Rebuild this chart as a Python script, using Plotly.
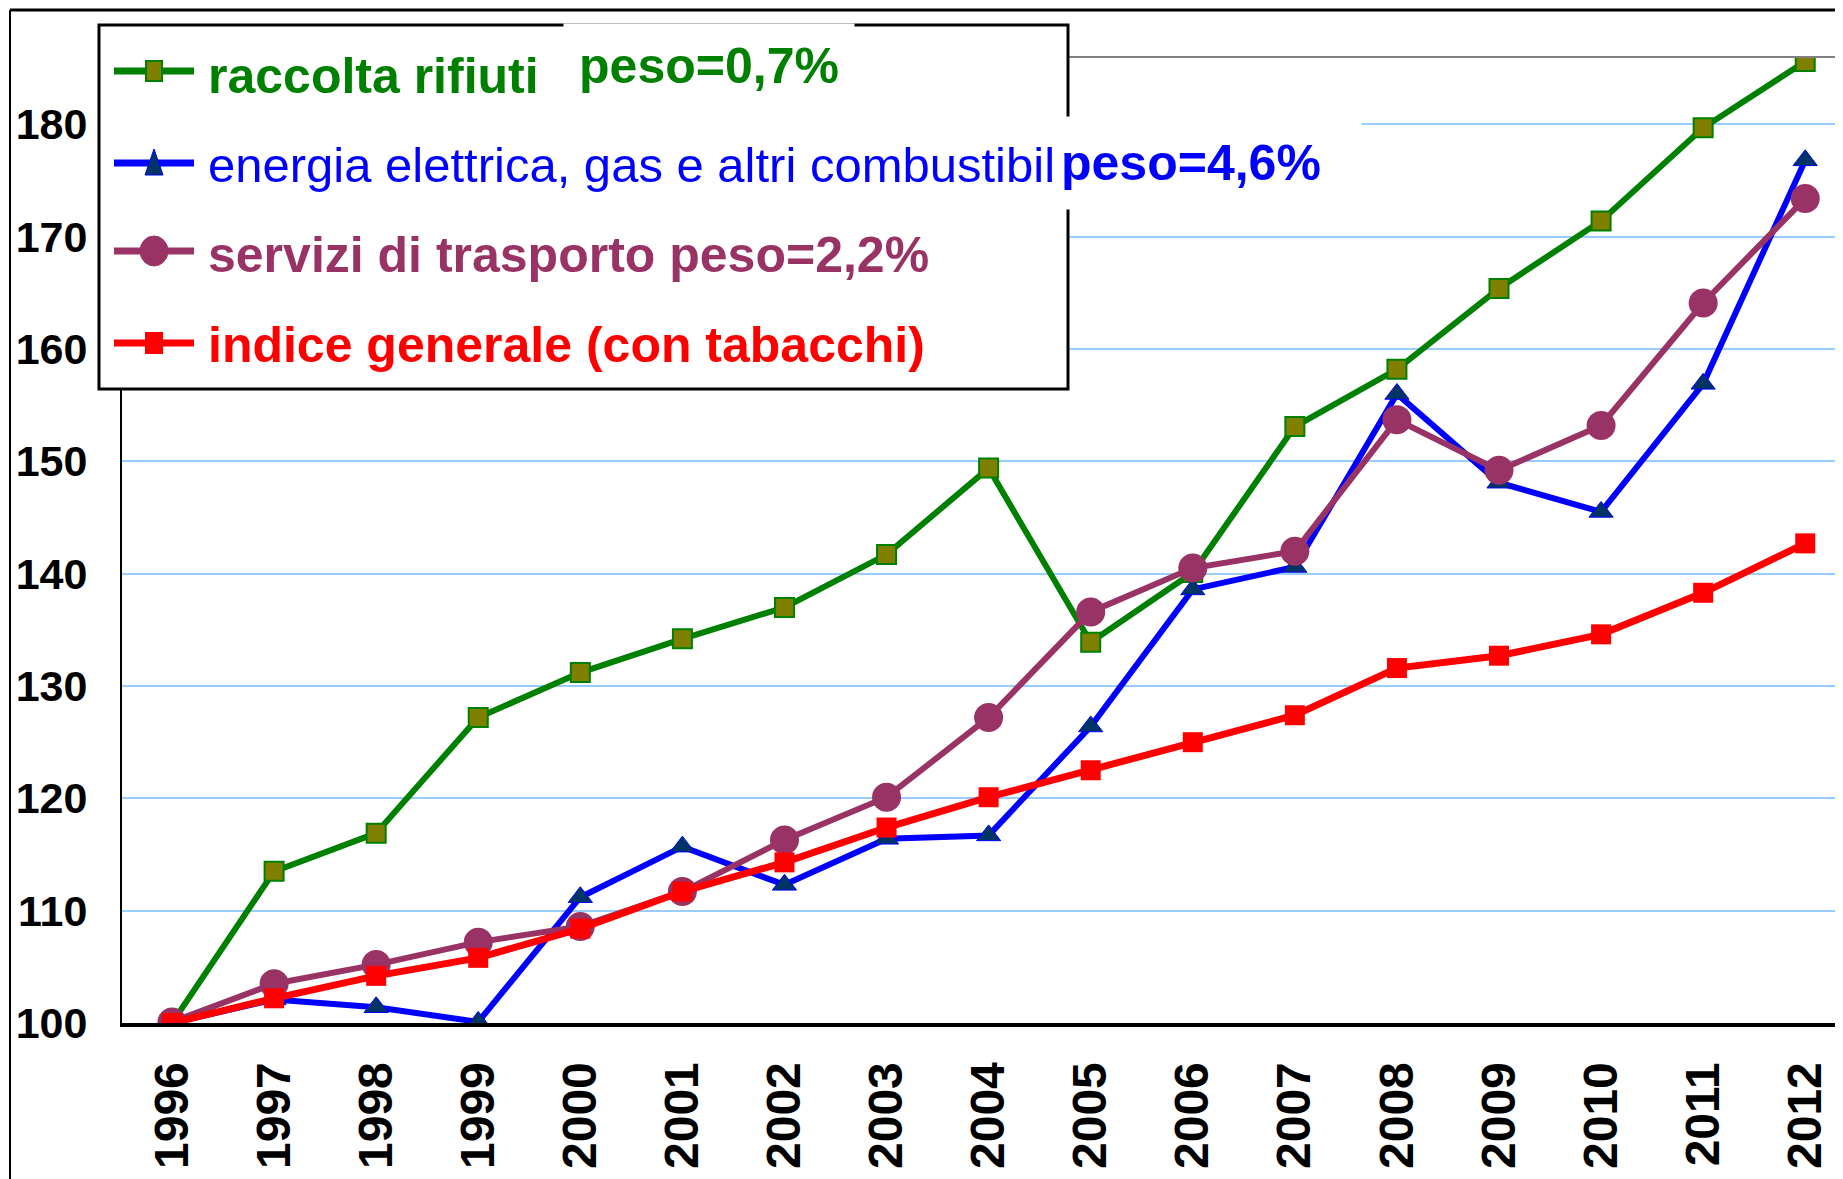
import plotly.graph_objects as go

years = list(range(1996, 2013))

raccolta_rifiuti = [100.0, 113.5, 116.9, 127.2, 131.2, 134.2, 137.0, 141.7, 149.4,
                    133.9, 140.1, 153.1, 158.2, 165.4, 171.4, 179.7, 185.6]
energia = [100.0, 102.1, 101.4, 100.1, 111.2, 115.7, 112.3, 116.4, 116.7,
           126.4, 138.6, 140.6, 156.0, 148.1, 145.5, 156.9, 176.8]
trasporto = [100.1, 103.5, 105.2, 107.2, 108.6, 111.7, 116.3, 120.1, 127.2,
             136.6, 140.5, 142.0, 153.7, 149.2, 153.2, 164.1, 173.4]
indice_generale = [100.0, 102.2, 104.2, 105.8, 108.4, 111.7, 114.3, 117.4, 120.1,
                   122.5, 125.0, 127.4, 131.6, 132.7, 134.6, 138.3, 142.7]

y_ticks = [100, 110, 120, 130, 140, 150, 160, 170, 180]

# the page body adds an 8px margin, so the figure is 8px smaller than the window
W, H = 1835, 1171
L, R, T, B = 114, 0, 49, 156
FONT = "Liberation Sans, Arial, sans-serif"

# screen pixel -> paper coordinates (plot area spans x 122..1843, y 57..1023 on screen)
def px(x):
    return (x - 122) / (1843 - 122)


def py(y):
    return (1023 - y) / (1023 - 57)


fig = go.Figure()
fig.add_trace(go.Scatter(x=years, y=raccolta_rifiuti, mode="lines+markers",
                         line=dict(color="#008000", width=6),
                         marker=dict(symbol="square", size=19, color="#808000",
                                     line=dict(color="#008000", width=2))))
fig.add_trace(go.Scatter(x=years, y=energia, mode="lines+markers",
                         line=dict(color="#0000FF", width=6),
                         marker=dict(symbol="triangle-up", size=21, color="#003366",
                                     line=dict(color="#0000FF", width=1))))
fig.add_trace(go.Scatter(x=years, y=trasporto, mode="lines+markers",
                         line=dict(color="#993366", width=6),
                         marker=dict(symbol="circle", size=29, color="#993366")))
fig.add_trace(go.Scatter(x=years, y=indice_generale, mode="lines+markers",
                         line=dict(color="#FF0000", width=7),
                         marker=dict(symbol="square", size=20, color="#FF0000")))

shapes = [
    # outer chart frame
    dict(type="line", xref="paper", yref="paper", x0=px(10), x1=px(1843), y0=py(10), y1=py(10),
         line=dict(color="black", width=3)),
    dict(type="line", xref="paper", yref="paper", x0=px(10), x1=px(10), y0=py(10), y1=py(1179),
         line=dict(color="black", width=2)),
    # top of plot area
    dict(type="line", xref="paper", yref="paper", x0=0, x1=1, y0=1, y1=1,
         line=dict(color="#808080", width=2)),
    # legend box
    dict(type="rect", xref="paper", yref="paper", x0=px(99), x1=px(1068), y0=py(25), y1=py(389),
         fillcolor="white", line=dict(color="black", width=3), layer="above"),
]

# legend samples
legend_rows = [
    (71, "#008000", "#808000", "square"),
    (163, "#0000FF", "#003366", "triangle"),
    (251, "#993366", "#993366", "circle"),
    (343, "#FF0000", "#FF0000", "square"),
]
for y, lc, fc, sym in legend_rows:
    shapes.append(dict(type="line", xref="paper", yref="paper", x0=px(114), x1=px(194),
                       y0=py(y), y1=py(y), line=dict(color=lc, width=7), layer="above"))
    if sym == "square":
        shapes.append(dict(type="rect", xref="paper", yref="paper", x0=px(146), x1=px(162),
                           y0=py(y - 10), y1=py(y + 10), fillcolor=fc,
                           line=dict(color=lc, width=2), layer="above"))
    elif sym == "circle":
        shapes.append(dict(type="circle", xref="paper", yref="paper", x0=px(140), x1=px(168),
                           y0=py(y - 15), y1=py(y + 15), fillcolor=fc,
                           line=dict(color=lc, width=1), layer="above"))
    else:
        shapes.append(dict(type="path", xref="paper", yref="paper",
                           path=f"M {px(145)},{py(y + 12)} L {px(163)},{py(y + 12)} L {px(154)},{py(y - 14)} Z",
                           fillcolor=fc, line=dict(color=lc, width=1), layer="above"))

annotations = [
    dict(text="raccolta rifiuti", x=px(207), y=py(76), font=dict(color="#008000", weight="bold", size=50)),
    dict(text="peso=0,7%", x=px(709), y=py(66), xanchor="center", width=290, height=84,
         bgcolor="white", font=dict(color="#008000", weight="bold", size=50)),
    dict(text="energia elettrica, gas e altri combustibil", x=px(207), y=py(165),
         font=dict(color="#0000FF", size=49)),
    dict(text="peso=4,6%", x=px(1060), y=py(163), width=300, height=92, align="left",
         bgcolor="white", font=dict(color="#0000FF", weight="bold", size=50)),
    dict(text="servizi di trasporto peso=2,2%", x=px(207), y=py(255),
         font=dict(color="#993366", weight="bold", size=50)),
    dict(text="indice generale (con tabacchi)", x=px(207), y=py(345),
         font=dict(color="#FF0000", weight="bold", size=50)),
]
for a in annotations:
    a.setdefault("xanchor", "left")
    a.update(xref="paper", yref="paper", yanchor="middle", showarrow=False, borderpad=0)
    a["font"].update(family=FONT)

fig.update_layout(
    width=W, height=H,
    margin=dict(l=L, r=R, t=T, b=B, autoexpand=False),
    paper_bgcolor="white", plot_bgcolor="white",
    showlegend=False,
    shapes=shapes,
    annotations=annotations,
)
fig.update_xaxes(range=[1995.51, 2012.37], tickmode="array", tickvals=years,
                 tickangle=-90, tickfont=dict(family=FONT, size=48, color="black", weight="bold"),
                 showgrid=False, zeroline=False, showline=True, linecolor="black", linewidth=4,
                 ticks="", ticklabelstandoff=16)
fig.update_yaxes(range=[100, 186], tickmode="array", tickvals=y_ticks,
                 tickfont=dict(family=FONT, size=43, color="black", weight="bold"),
                 showgrid=True, gridcolor="#99CCFF", gridwidth=2, zeroline=False,
                 showline=True, linecolor="black", linewidth=2, ticks="", ticklabelstandoff=24)

fig.write_html("out.html")
